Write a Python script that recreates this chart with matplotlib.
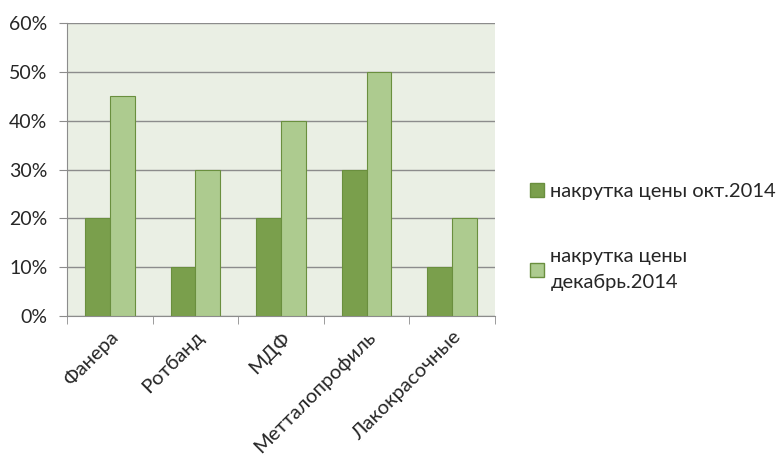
import matplotlib.pyplot as plt
import numpy as np
from matplotlib.patches import Patch

categories = ['Фанера', 'Ротбанд', 'МДФ', 'Метталопрофиль', 'Лакокрасочные']
oct_2014 = [20, 10, 20, 30, 10]
dec_2014 = [45, 30, 40, 50, 20]
labels = ['накрутка цены окт.2014', 'накрутка цены\nдекабрь.2014']
y_ticks = [0, 10, 20, 30, 40, 50, 60]

plt.rcParams['font.family'] = ['Lato', 'DejaVu Sans']

fig = plt.figure(figsize=(7.76, 4.57), dpi=100)
ax = fig.add_axes([0.0863, 0.3085, 0.5515, 0.6412])
ax.set_facecolor('#EAEFE4')

x = np.arange(len(categories))
w = 0.29
c_dark = '#7A9F4C'
c_light = '#ADCB8F'
edge = '#6A8F3E'
ax.bar(x - w / 2, oct_2014, w, color=c_dark, edgecolor=edge, linewidth=0.8, zorder=3)
ax.bar(x + w / 2, dec_2014, w, color=c_light, edgecolor=edge, linewidth=0.8, zorder=3)

ax.set_xlim(-0.5, len(categories) - 0.5)
ax.set_ylim(0, 60)
ax.set_yticks(y_ticks)
ax.set_yticklabels([f'{v}%' for v in y_ticks], fontsize=14, color='#262626')
ax.grid(axis='y', color='#8C8C8C', linewidth=1, zorder=1)

ax.set_xticks(x)
ax.set_xticklabels(categories, rotation=45, ha='right', rotation_mode='anchor',
                   fontsize=14.5, color='#262626')
ax.tick_params(axis='x', which='major', length=0, pad=9)
ax.set_xticks(np.arange(len(categories) + 1) - 0.5, minor=True)
ax.tick_params(axis='x', which='minor', length=6, color='#8C8C8C')
ax.tick_params(axis='y', length=6, color='#8C8C8C', pad=8)

for s in ['top', 'right']:
    ax.spines[s].set_visible(False)
for s in ['left', 'bottom']:
    ax.spines[s].set_color('#8C8C8C')

handles = [Patch(facecolor=c_dark, edgecolor=edge),
           Patch(facecolor=c_light, edgecolor=edge)]
leg = fig.legend(handles, labels, loc='upper left', bbox_to_anchor=(0.66, 0.64),
                 frameon=False, fontsize=14.5, handlelength=0.7, handleheight=0.7,
                 handletextpad=0.3, labelspacing=2.4)
for t in leg.get_texts():
    t.set_color('#262626')
    t.set_linespacing(1.65)

fig.savefig('out.png', dpi=100)
